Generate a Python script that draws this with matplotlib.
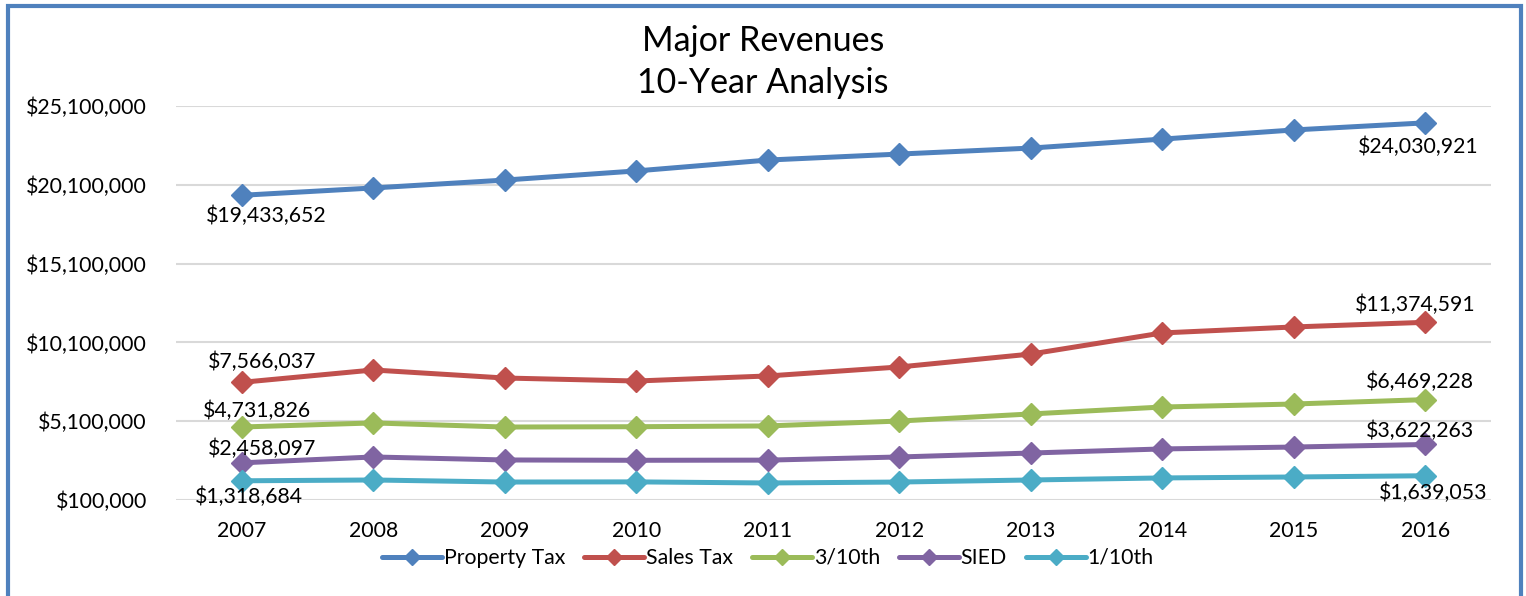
import matplotlib
matplotlib.use("Agg")
import matplotlib.pyplot as plt
from matplotlib.patches import Rectangle
from matplotlib.ticker import FuncFormatter, FixedLocator

years = ["2007", "2008", "2009", "2010", "2011", "2012", "2013", "2014", "2015", "2016"]
property_tax = [19433652, 19900000, 20400000, 20980000, 21670000, 22050000, 22430000, 23000000, 23580000, 24030921]
sales_tax = [7566037, 8350000, 7840000, 7650000, 7970000, 8540000, 9360000, 10700000, 11080000, 11374591]
three_tenth = [4731826, 4990000, 4730000, 4750000, 4800000, 5110000, 5560000, 6000000, 6190000, 6469228]
sied = [2458097, 2830000, 2640000, 2620000, 2630000, 2830000, 3080000, 3340000, 3460000, 3622263]
one_tenth = [1318684, 1370000, 1240000, 1250000, 1180000, 1240000, 1370000, 1500000, 1560000, 1639053]
series_names = ["Property Tax", "Sales Tax", "3/10th", "SIED", "1/10th"]
y_ticks = [100000, 5100000, 10100000, 15100000, 20100000, 25100000]

colors = ["#4F81BD", "#C0504D", "#9BBB59", "#8064A2", "#4BACC6"]
series = [property_tax, sales_tax, three_tenth, sied, one_tenth]
# label offsets in pixels (first point, last point)
offsets = [((24, -21), (-7, -24)),
           ((20, 20), (-10, 17)),
           ((15, 16), (-5, 18)),
           ((20, 14), (-5, 14)),
           ((7, -16), (8, -17))]

plt.rcParams['font.family'] = ['Lato', 'DejaVu Sans']

W, H = 1526, 596
fig = plt.figure(figsize=(W / 100, H / 100), dpi=100)
ax = fig.add_axes([176 / W, 1 - 500 / H, (1491 - 176) / W, (500 - 106) / H])

FS = 15.3
x = list(range(len(years)))
for name, vals, c, (o1, o2) in zip(series_names, series, colors, offsets):
    ax.plot(x, vals, color=c, lw=3.6, marker='D', markersize=11, label=name,
            solid_capstyle='round', zorder=3)
    ax.annotate("${:,.0f}".format(vals[0]), (x[0], vals[0]), xytext=o1,
                textcoords='offset pixels', ha='center', va='center', fontsize=FS, zorder=4)
    ax.annotate("${:,.0f}".format(vals[-1]), (x[-1], vals[-1]), xytext=o2,
                textcoords='offset pixels', ha='center', va='center', fontsize=FS, zorder=4)

ax.set_xlim(-0.5, len(years) - 0.5)
ax.set_ylim(y_ticks[0], y_ticks[-1])
ax.set_xticks(x)
ax.set_xticklabels(years)
ax.yaxis.set_major_locator(FixedLocator(y_ticks))
ax.yaxis.set_major_formatter(FuncFormatter(lambda v, p: "${:,.0f}".format(v)))
ax.tick_params(axis='both', length=0, labelsize=FS)
ax.tick_params(axis='y', pad=21)
ax.tick_params(axis='x', pad=15)
ax.grid(axis='y', color='#D9D9D9', lw=1.5, zorder=0)
ax.set_axisbelow(True)
for s in ax.spines.values():
    s.set_visible(False)

fig.text(763 / W, 1 - 62 / H, "Major Revenues\n10-Year Analysis", ha='center', va='center',
         fontsize=24.5, linespacing=1.4)

leg = fig.legend(loc='center', bbox_to_anchor=(768 / W, 1 - 558 / H), ncol=5, frameon=False,
                 fontsize=FS, handlelength=2.8, handletextpad=0.1, columnspacing=0.9,
                 markerscale=0.7)

fig.patches.append(Rectangle((8 / W, -0.05), (1520.5 - 8) / W, 1.05 - 5.5 / H,
                             transform=fig.transFigure, fill=False, edgecolor='#4F81BD',
                             lw=3, clip_on=False))

fig.savefig("out.png", dpi=100)
